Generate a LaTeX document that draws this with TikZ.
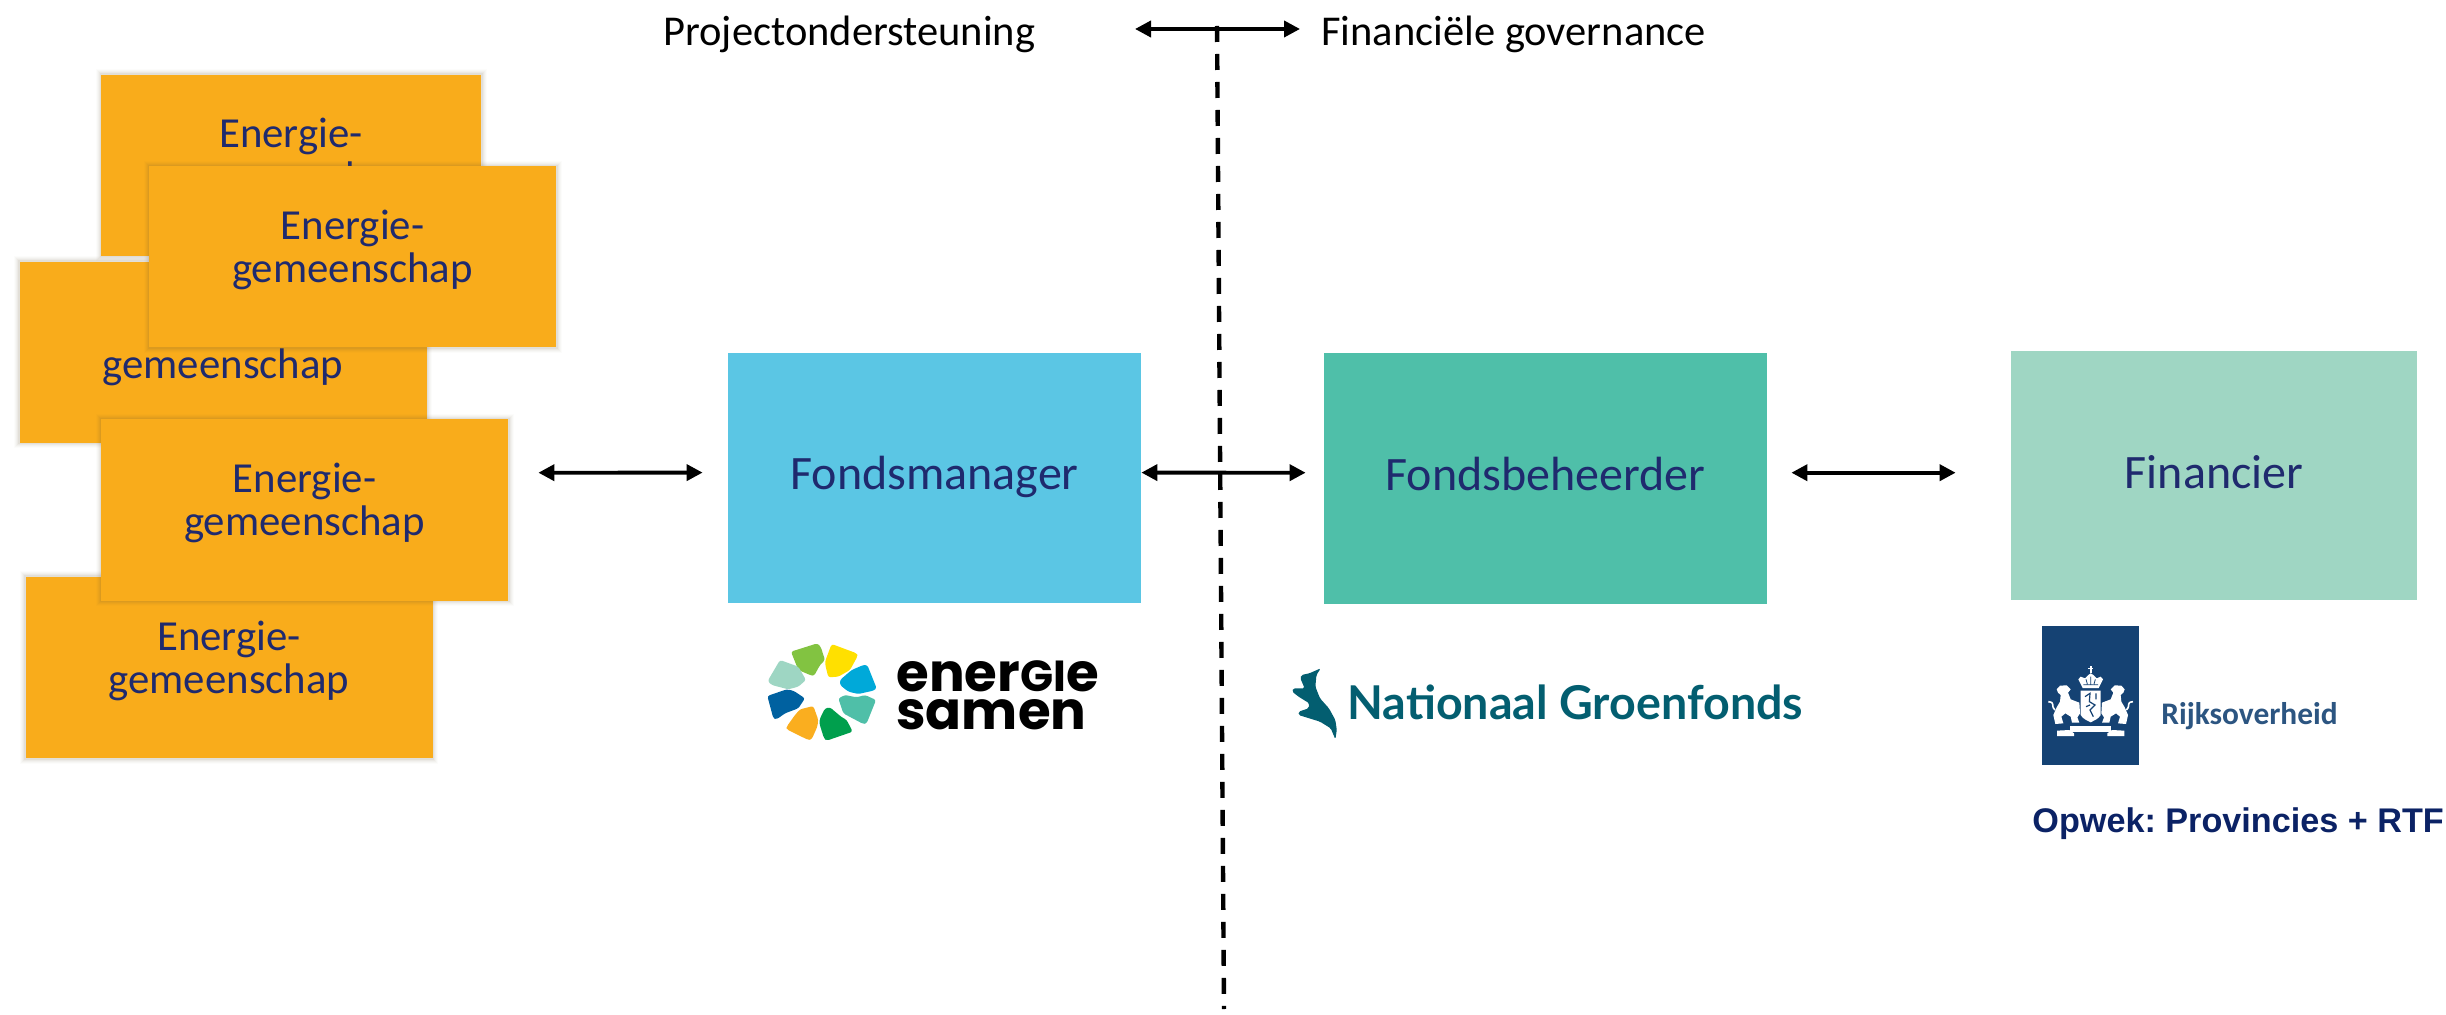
\documentclass[tikz,border=0pt]{standalone}
\usepackage{fontspec}
\setmainfont{Carlito}
\newfontfamily\arialbold{Liberation Sans}
\newfontfamily\poppinsfont{Poppins}
\newfontfamily\latofont{Lato}
\usetikzlibrary{arrows.meta}
\definecolor{enorange}{HTML}{F9AC1B}
\definecolor{navy}{HTML}{1F2A6E}
\definecolor{fmblue}{HTML}{5BC6E4}
\definecolor{fbteal}{HTML}{4FBFA9}
\definecolor{finmint}{HTML}{9FD6C3}
\definecolor{rijk}{HTML}{154273}
\definecolor{opwek}{HTML}{0B2265}
\definecolor{groen}{HTML}{035E70}
\definecolor{softgrey}{HTML}{6B5A3A}
\newcommand{\atbase}[2]{\makebox[0pt]{\raisebox{#1}[0pt][0pt]{#2}}}
\newcommand{\entxt}{\atbase{8.75pt}{Energie-}\atbase{-12.9pt}{gemeenschap}}
\newcommand{\lionpath}{(50,88) -- (60,77) -- (80,76) -- (92,88) -- (84,98) -- (92,118) -- (118,128) -- (120,160) -- (112,172) -- (118,188) -- (96,188) -- (92,170) -- (76,160) -- (64,170) -- (70,190) -- (46,192) -- (40,165) -- (50,142) -- (60,125) -- (62,105) -- (54,98) -- cycle}
\tikzset{
  softbox/.style={rectangle,inner sep=0pt,fill=enorange,text=navy,font=\fontsize{21.4}{21}\selectfont,
    minimum width=203.5pt,minimum height=90.5pt,
    preaction={draw=softgrey,opacity=.02,line width=5.5pt},
    preaction={draw=softgrey,opacity=.03,line width=4.5pt},
    preaction={draw=softgrey,opacity=.04,line width=3.5pt},
    preaction={draw=softgrey,opacity=.05,line width=2.5pt},
    preaction={draw=softgrey,opacity=.07,line width=1.5pt}},
  bigbox/.style={rectangle,inner sep=0pt,text=navy,font=\fontsize{24}{24}\selectfont},
  toptext/.style={inner sep=0pt,anchor=base west,text=black,font=\fontsize{21.25}{21}\selectfont},
  biarrow/.style={{Triangle[length=8pt,width=8pt]}-{Triangle[length=8pt,width=8pt]},line width=1.9pt,black},
  divider/.style={line width=2.2pt,black,dash pattern=on 8pt off 6pt},
  logotext/.style={inner sep=0pt,anchor=base west},
  petal/.style={rounded corners=1.2pt}
}
\begin{document}
\begin{tikzpicture}[x=.5pt,y=-.5pt]
\useasboundingbox (0,0) rectangle (2446,1015);
% divider
\coordinate (dtop) at (1217,26);
\coordinate (dbot) at (1224,1009);
\draw[divider] (dtop) -- (dbot);
% top labels
\node[toptext] (pt) at (663,46) {Projectondersteuning};
\node[toptext] (fg) at (1321,46) {Financiële governance};
\coordinate (tl) at (1135,29);
\coordinate (tr) at (1300,29);
\draw[biarrow] (tl) -- (tr);
% energy community stack
\node[softbox,minimum width=190pt] (ea) at (291,165.5) {\entxt};
\node[softbox] (ec) at (223,352.5) {\entxt};
\node[softbox] (eb) at (352.5,257) {\entxt};
\node[softbox] (ee) at (229,667.5) {\entxt};
\node[softbox] (ed) at (304.5,510) {\entxt};
% main boxes
\node[bigbox,fill=fmblue,minimum width=206.5pt,minimum height=125pt] (fm) at (934.5,478) {\atbase{-6pt}{Fondsmanager}};
\node[bigbox,fill=fbteal,minimum width=221.5pt,minimum height=125.5pt] (fb) at (1545.5,478.5) {\atbase{-6pt}{Fondsbeheerder}};
\node[bigbox,fill=finmint,minimum width=203pt,minimum height=124.5pt] (fin) at (2214,475.5) {\atbase{-6.75pt}{Financier}};
% arrows
\draw[biarrow] ([xshift=15pt,yshift=18.65pt]ed.east) -- ([xshift=-12.5pt,yshift=2.7pt]fm.west);
\draw[biarrow] ([yshift=2.7pt]fm.east) -- ([xshift=-9pt,yshift=2.9pt]fb.west);
\draw[biarrow] ([xshift=12pt,yshift=2.9pt]fb.east) -- ([xshift=-27.5pt,yshift=1.4pt]fin.west);
% energie samen logo
\begin{scope}[shift={(730,620)},x=.16667pt,y=-.16667pt]
\definecolor{p1}{HTML}{82C341}\definecolor{p2}{HTML}{FFE000}\definecolor{p3}{HTML}{00A9D9}\definecolor{p4}{HTML}{4FBFA8}
\definecolor{p5}{HTML}{009F4D}\definecolor{p6}{HTML}{FAAE1F}\definecolor{p7}{HTML}{0061A0}\definecolor{p8}{HTML}{9ED6C3}
\fill[petal,p1] (183,95)--(262,70)--(272,80)--(285,120)--(270,135)--(252,168)--(240,165)--(205,150)--(195,125)--cycle;
\fill[petal,p2] (305,72)--(380,100)--(383,108)--(360,150)--(325,170)--(295,172)--(287,140)--(285,125)--(300,85)--cycle;
\fill[petal,p3] (412,135)--(440,205)--(430,212)--(385,222)--(355,215)--(330,195)--(330,180)--(365,150)--(400,135)--cycle;
\fill[petal,p4] (325,235)--(345,225)--(380,232)--(405,225)--(438,240)--(410,310)--(400,312)--(362,292)--(340,280)--cycle;
\fill[petal,p5] (300,262)--(333,290)--(350,300)--(368,335)--(290,362)--(282,355)--(268,310)--(270,295)--(285,265)--cycle;
\fill[petal,p6] (250,258)--(265,300)--(262,320)--(245,358)--(235,360)--(170,328)--(170,320)--(195,285)--(210,268)--cycle;
\fill[petal,p7] (112,228)--(170,208)--(190,212)--(225,235)--(205,265)--(165,280)--(140,298)--(130,295)--cycle;
\fill[petal,p8] (150,120)--(205,140)--(228,180)--(205,200)--(175,208)--(125,195)--(113,183)--cycle;
\end{scope}
\node[logotext,font=\poppinsfont\fontsize{26.5}{26}\selectfont\bfseries] (esa) at (896,691) {ener\scalebox{.82}{G}\scalebox{.82}{I}e};
\node[logotext,font=\poppinsfont\fontsize{26.5}{26}\selectfont\bfseries] (esb) at (896,729) {samen};
% Nationaal Groenfonds logo
\fill[groen,rounded corners=.8pt,shift={(1270,640)},x=.17857pt,y=-.16667pt]
 (142,85)--(110,100)--(88,105)--(85,115)--(97,145)--(65,145)--(62,155)--(80,170)--(110,190)--(108,205)--(80,215)--(80,225)--(140,245)--(170,265)--(183,298)--(187,270)--(183,240)--(165,205)--(140,175)--(127,140)--(130,105)--cycle;
\node[logotext,text=groen,font=\latofont\fontsize{23.3}{24}\selectfont\bfseries] (ng) at (1347,719) {Nationaal Groenfonds};
% Rijksoverheid logo
\node[rectangle,inner sep=0pt,fill=rijk,minimum width=48.5pt,minimum height=69.5pt] (rk) at (2090.5,695.5) {};
\begin{scope}[shift={(2040,660)},x=.16667pt,y=-.16667pt]
\fill[white] \lionpath;
\draw[white,line width=.8pt] (45,150) .. controls (30,135) and (48,128) .. (25,125);
\begin{scope}[shift={(304,0)},xscale=-1]
\fill[white] \lionpath;
\draw[white,line width=.8pt] (45,150) .. controls (30,135) and (48,128) .. (25,125);
\end{scope}
% shield
\fill[rijk] (116,88) rectangle (188,100);
\fill[white] (122,92) -- (182,92) -- (182,165) .. controls (175,178) and (160,182) .. (152,187) .. controls (144,182) and (129,178) .. (122,165) -- cycle;
\draw[rijk,line width=.6pt] (135,110) -- (150,100) -- (148,125) -- (165,135) -- (150,150) -- (160,170);
\draw[rijk,line width=.6pt] (168,100) -- (168,118) (138,140) -- (150,135);
% crown
\fill[white] (128,84) -- (115,58) -- (122,50) -- (135,55) -- (145,45) -- (152,40) -- (160,45) -- (170,55) -- (182,50) -- (189,58) -- (176,84) -- cycle;
\draw[rijk,line width=.4pt] (130,74) -- (174,74) (138,58) -- (142,72) (166,58) -- (162,72) (152,50) -- (152,72);
\fill[white] (149,18) rectangle (155,40);
\fill[white] (144,23) rectangle (160,28);
% ribbon
\fill[white] (90,197) -- (213,197) -- (213,215) -- (90,215) -- cycle;
\fill[white] (51,212) -- (88,210) -- (102,220) -- (102,228) -- (51,228) -- cycle;
\fill[white] (253,212) -- (216,210) -- (202,220) -- (202,228) -- (253,228) -- cycle;
\end{scope}
\node[logotext,text=rijk!90!white,font=\fontsize{15.7}{16}\selectfont\bfseries] (rt) at (2161,724) {Rijksoverheid};
\node[logotext,text=opwek,font=\arialbold\fontsize{17.1}{18}\selectfont\bfseries\frenchspacing] (ow) at (2032,832) {Opwek: Provincies + RTF};
\end{tikzpicture}
\end{document}
